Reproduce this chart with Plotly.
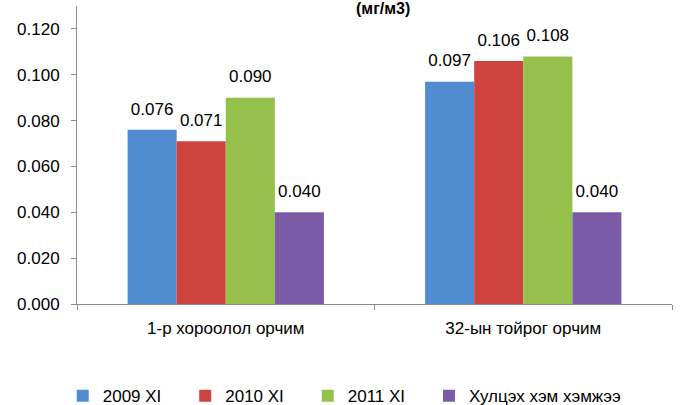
import plotly.graph_objects as go

categories = ["1-р хороолол орчим", "32-ын тойрог орчим"]
series_names = ["2009 XI", "2010 XI", "2011 XI", "Хулцэх хэм хэмжээ"]
values_2009 = [0.076, 0.097]
values_2010 = [0.071, 0.106]
values_2011 = [0.090, 0.108]
values_limit = [0.040, 0.040]
y_ticks = [0.0, 0.02, 0.04, 0.06, 0.08, 0.10, 0.12]

colors = ["#528CD0", "#CF433F", "#95C04B", "#7B5BA6"]
font_family = "Liberation Sans Narrow, Arial Narrow, Liberation Sans, Arial, sans-serif"

fig = go.Figure()
series_values = [values_2009, values_2010, values_2011, values_limit]
for i, (name, vals, color) in enumerate(zip(series_names, series_values, colors)):
    # pad the short legend names so the entries spread like the original
    label = name if i == len(series_names) - 1 else name + "\u00a0" * 4
    fig.add_trace(
        go.Bar(
            x=categories,
            y=vals,
            name=label,
            offsetgroup=str(i),
            marker=dict(color=color, line=dict(width=0)),
        )
    )
    # value labels sit a bit higher above the bars than plotly's own outside text
    fig.add_trace(
        go.Scatter(
            x=categories,
            y=vals,
            mode="markers+text",
            offsetgroup=str(i),
            marker=dict(size=16, opacity=0),
            text=[f"{v:.3f}" for v in vals],
            textposition="top center",
            textfont=dict(size=17, color="#000000", family=font_family),
            cliponaxis=False,
            showlegend=False,
            hoverinfo="skip",
        )
    )

# chart title, half cut by the top edge in the original
fig.add_annotation(
    text="<b>(мг/м3)</b>",
    xref="paper", yref="paper",
    x=0.514, y=0.955,
    xanchor="center", yanchor="bottom",
    showarrow=False,
    font=dict(size=16, color="#000000", family=font_family),
)

fig.update_layout(
    width=680,
    height=405,
    barmode="group",
    scattermode="group",
    bargap=0.34,
    scattergap=0.34,
    bargroupgap=0,
    plot_bgcolor="white",
    paper_bgcolor="white",
    margin=dict(l=77, r=8, t=6, b=101, autoexpand=False),
    font=dict(family=font_family, size=17, color="#000000"),
    legend=dict(
        orientation="h",
        x=-0.024, xanchor="left",
        y=-0.309, yanchor="middle",
        font=dict(size=17, family=font_family),
        itemwidth=30,
    ),
)
fig.update_xaxes(
    showline=True,
    linecolor="#8C8C8C",
    linewidth=1,
    ticks="outside",
    tickson="boundaries",
    ticklen=5,
    tickcolor="#8C8C8C",
    ticklabelstandoff=9,
    showgrid=False,
    automargin=False,
    tickfont=dict(size=17, family=font_family),
)
fig.update_yaxes(
    range=[0, 0.130],
    tickvals=y_ticks,
    tickformat=".3f",
    showline=True,
    linecolor="#8C8C8C",
    linewidth=1,
    ticks="outside",
    ticklen=5,
    tickcolor="#8C8C8C",
    ticklabelstandoff=8,
    showgrid=False,
    zeroline=False,
    automargin=False,
    tickfont=dict(size=17, family=font_family),
)

fig.write_html(
    "out.html",
    config={"displayModeBar": False},
    post_script="document.body.style.margin='0';",
)
